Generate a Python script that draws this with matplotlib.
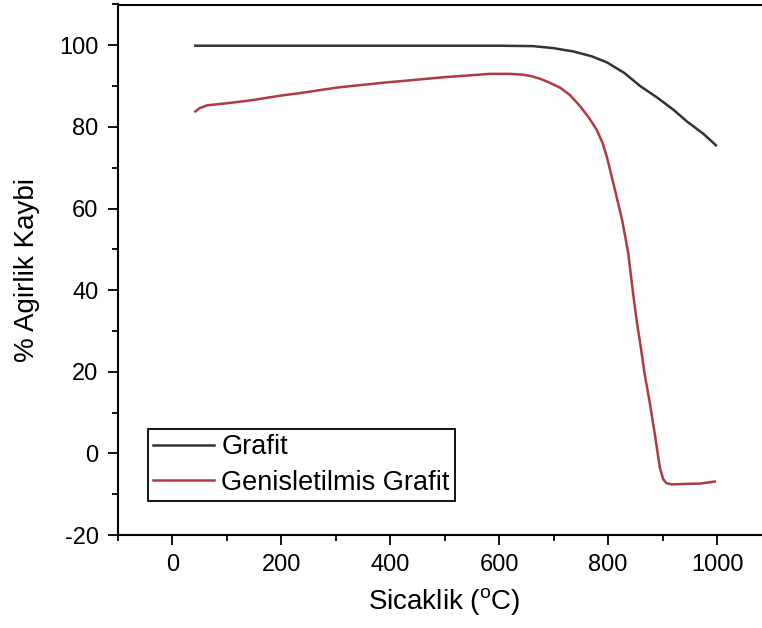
import matplotlib
matplotlib.use("Agg")
import matplotlib.pyplot as plt
from matplotlib.ticker import MultipleLocator

plt.rcParams['font.family'] = ['Liberation Sans', 'DejaVu Sans']
plt.rcParams['mathtext.fontset'] = 'custom'
plt.rcParams['mathtext.rm'] = 'Liberation Sans'
plt.rcParams['axes.unicode_minus'] = False

# Grafit
t_grafit = [42, 100, 200, 300, 400, 500, 600, 662, 700, 736, 770, 798, 830, 859, 890, 920, 945, 975, 998]
w_grafit = [99.9, 99.9, 99.9, 99.9, 99.9, 99.9, 99.9, 99.8, 99.3, 98.5, 97.3, 95.8, 93.2, 90.0, 87.2, 84.2, 81.3, 78.3, 75.5]

# Genisletilmis Grafit
t_gen = [42, 50, 64, 100, 143, 200, 235, 300, 327, 400, 418, 500, 583, 620, 644, 660, 675, 690, 712, 730, 749,
         765, 779, 790, 798, 809, 818, 826, 837, 846, 853, 860, 867, 877, 886, 895, 901, 907, 917, 940, 969, 996]
w_gen = [83.8, 84.6, 85.3, 85.8, 86.5, 87.7, 88.3, 89.6, 90.0, 91.0, 91.2, 92.2, 93.0, 93.0, 92.8, 92.4, 91.8, 91.0,
         89.6, 87.8, 85.0, 82.2, 79.3, 76.0, 72.5, 66.5, 61.5, 57.0, 49.0, 39.0, 32.0, 26.0, 19.5, 12.0, 4.5, -3.5,
         -6.3, -7.3, -7.6, -7.5, -7.4, -6.9]

fig = plt.figure(figsize=(7.62, 6.28), dpi=100)
ax = fig.add_axes([118 / 762, 93 / 628, 653.5 / 762, 530.5 / 628])

ax.plot(t_grafit, w_grafit, color='#333333', lw=1.8, label='Grafit')
ax.plot(t_gen, w_gen, color='#b03a42', lw=1.8, label='Genisletilmis Grafit')

ax.set_xlim(-100, 1100)
ax.set_ylim(-20, 110)
ax.xaxis.set_major_locator(MultipleLocator(200))
ax.xaxis.set_minor_locator(MultipleLocator(100))
ax.yaxis.set_major_locator(MultipleLocator(20))
ax.yaxis.set_minor_locator(MultipleLocator(10))
ax.set_xticks([0, 200, 400, 600, 800, 1000])

ax.tick_params(which='major', direction='out', length=7, width=1.3, labelsize=17, pad=7)
ax.tick_params(which='minor', direction='out', length=4, width=1.3)
ax.tick_params(top=False, right=False)
for s in ax.spines.values():
    s.set_linewidth(1.5)
ax.spines['right'].set_visible(False)

ax.set_xlabel(r'Sicaklik ($^{\mathrm{o}}$C)', fontsize=20, labelpad=7)
ax.set_ylabel('% Agirlik Kaybi', fontsize=20, labelpad=14)

leg = ax.legend(loc='upper left', bbox_to_anchor=(0.046, 0.2), borderaxespad=0,
                fontsize=19.5, frameon=True, fancybox=False, framealpha=1,
                edgecolor='black', handlelength=2.25, handletextpad=0.26,
                labelspacing=0.35, borderpad=0.2)
leg.get_frame().set_linewidth(1.3)

fig.savefig('out.png', dpi=100)
